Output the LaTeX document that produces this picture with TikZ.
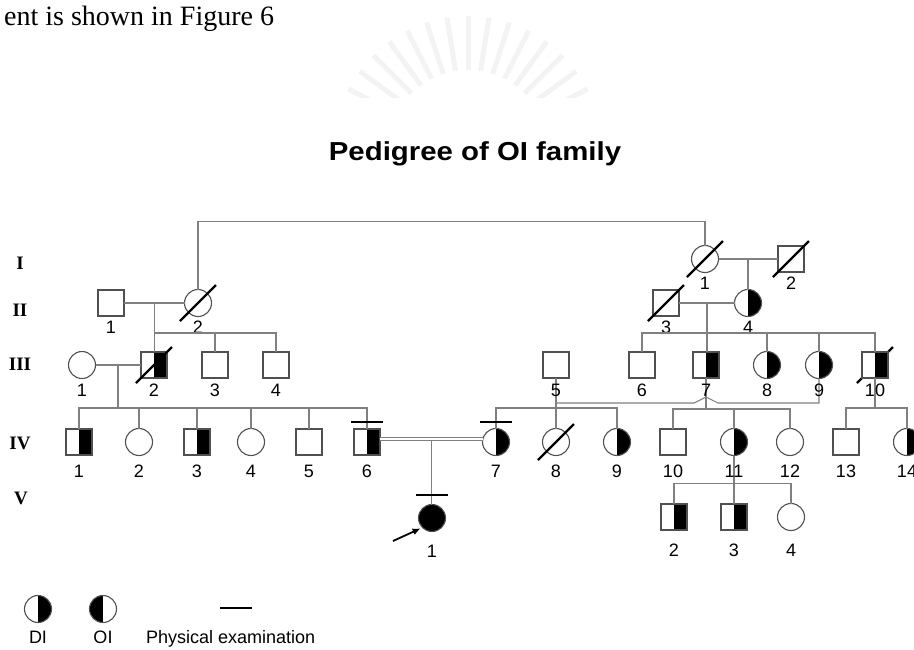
\documentclass[tikz,border=0pt]{standalone}
\usepackage{fontspec}
\setmainfont{Liberation Serif}
\newfontfamily\pedsans{Liberation Sans}
\usepackage{tikz}
\usetikzlibrary{arrows.meta,calc,positioning}
\definecolor{PedLine}{HTML}{808080}
\definecolor{PedEdge}{HTML}{505050}
\definecolor{PedMark}{HTML}{F3F3F3}
\tikzset{
  person/.style={draw=PedEdge,fill=white,line width=1.1pt,inner sep=0pt,outer sep=0pt},
  male/.style={person,rectangle,minimum size=26pt},
  female/.style={person,circle,minimum size=27pt},
  halfR/.style={path picture={\fill[black] (path picture bounding box.south) rectangle (path picture bounding box.north east);}},
  halfL/.style={path picture={\fill[black] (path picture bounding box.south west) rectangle (path picture bounding box.north);}},
  kin/.style={PedLine,line width=1.1pt},
  strikeline/.style={black,line width=2.4pt},
  exambar/.style={black,line width=2.6pt},
  numlbl/.style={font=\pedsans\fontsize{18}{18}\selectfont,inner sep=0pt,text height=12.9pt,text depth=0pt},
  genlbl/.style={font=\bfseries\fontsize{19}{19}\selectfont,inner sep=0pt}
}
\newcommand{\Deceased}[1]{\draw[strikeline] ($(#1)+(-18,18)$) -- ($(#1)+(18,-18)$);}
\newcommand{\ExamBar}[2]{\draw[exambar] ($(#1)+(-16,#2)$) -- ($(#1)+(16,#2)$);}
\begin{document}
\begin{tikzpicture}[x=1pt,y=-1pt]
  \useasboundingbox (0,0) rectangle (914,649);
  \clip (0,0) rectangle (914,649);

  % faint seal behind the title
  \begin{scope}
    \clip (330,0) rectangle (610,97);
    \coordinate (seal) at (468,150);
    \foreach \a in {-27,-36,...,-153}
      \draw[PedMark,line width=5pt] ($(seal)+(\a:80)$) -- ($(seal)+(\a:134)$);
  \end{scope}

  \node[anchor=base west,inner sep=0pt,font=\fontsize{28}{28}\selectfont] (runin) at (4,25) {ent is shown in Figure 6};
  \node[anchor=base,inner sep=0pt,xscale=1.13,font=\pedsans\bfseries\fontsize{26}{26}\selectfont] (title) at (475,160) {Pedigree of OI family};

  % generations
  \node[genlbl] (genI) at (20,263) {I};
  \node[genlbl] (genII) at (20,310) {II};
  \node[genlbl] (genIII) at (20,364) {III};
  \node[genlbl] (genIV) at (20,443) {IV};
  \node[genlbl] (genV) at (21,498) {V};

  % I and II
  \node[female] (i1) at (705,259) {};
  \node[male] (i2) at (791,259) {};
  \node[male] (ii1) at (111,303) {};
  \node[female] (ii2) at (198,303) {};
  \node[male] (ii3) at (666,303) {};
  \node[female,halfR] (ii4) at (748,303) {};
  \foreach \k/\t in {i1/1,i2/2,ii1/1,ii2/2,ii3/3,ii4/4}
    \node[numlbl] (\k-n) at ($(\k)+(0,24)$) {\t};
  \Deceased{i1}
  \Deceased{i2}
  \Deceased{ii2}
  \Deceased{ii3}

  % III
  \coordinate (c3x10) at (875,365);
  \Deceased{c3x10}
  \node[female] (iii1) at (82,365) {};
  \node[male,halfR] (iii2) at (154,365) {};
  \node[male] (iii3) at (215,365) {};
  \node[male] (iii4) at (276,365) {};
  \node[male] (iii5) at (556,365) {};
  \node[male] (iii6) at (642,365) {};
  \node[male,halfR] (iii7) at (706,365) {};
  \node[female,halfR] (iii8) at (767,365) {};
  \node[female,halfR] (iii9) at (819,365) {};
  \node[male,halfR] (iii10) at (c3x10) {};
  \Deceased{iii2}

  % IV
  \node[male,halfR] (iv1) at (79,442) {};
  \node[female] (iv2) at (139,442) {};
  \node[male,halfR] (iv3) at (197,442) {};
  \node[female] (iv4) at (251,442) {};
  \node[male] (iv5) at (309,442) {};
  \node[male,halfR] (iv6) at (367,442) {};
  \node[female,halfR] (iv7) at (496,442) {};
  \node[female] (iv8) at (556,442) {};
  \node[female,halfR] (iv9) at (617,442) {};
  \node[male] (iv10) at (673,442) {};
  \node[female,halfR] (iv11) at (734,442) {};
  \node[female] (iv12) at (790,442) {};
  \node[male] (iv13) at (846,442) {};
  \node[female,halfR] (iv14) at (907,442) {};
  \Deceased{iv8}

  % V
  \node[female,fill=black] (v1) at (432,518) {};
  \node[male,halfR] (v2) at (674,517) {};
  \node[male,halfR] (v3) at (734,517) {};
  \node[female] (v4) at (791,517) {};

  % lines of descent
  \draw[kin] (ii2.north) -- ++(0,-68) -| (i1.north);
  \draw[kin] (i1) -- (i2);
  \coordinate (m1) at ($(i1)!0.5!(i2)$);
  \draw[kin] (m1) -- (m1 |- ii4.north);

  \draw[kin] (ii1) -- (ii2);
  \coordinate (m2a) at ($(ii1)!0.5!(ii2)$);
  \coordinate (s3a) at ($(m2a)+(0,30)$);
  \draw[kin] (m2a) -- (m2a |- iii2.north);
  \draw[kin] (s3a) -| (iii4.north);
  \draw[kin] (iii3.north) -- (iii3.north |- s3a);

  \draw[kin] (ii3) -- (ii4);
  \coordinate (m2b) at ($(ii3)!0.5!(ii4)$);
  \coordinate (s3b) at ($(m2b)+(0,30)$);
  \draw[kin] (m2b) -- (m2b |- iii7.north);
  \draw[kin] (iii6.north) |- (s3b -| iii10) -- (iii10.north);
  \foreach \k in {iii8,iii9}
    \draw[kin] (\k.north) -- (\k.north |- s3b);

  \draw[kin] (iii1) -- (iii2);
  \coordinate (m3a) at ($(iii1)!0.5!(iii2)$);
  \coordinate (s4a) at ($(m3a)+(0,43)$);
  \draw[kin] (m3a) -- (s4a);
  \draw[kin] (iv1.north) |- (s4a -| iv6) -- (iv6.north);
  \foreach \k in {iv2,iv3,iv4,iv5}
    \draw[kin] (\k.north) -- (\k.north |- s4a);

  % III-5 x III-9, hopping over the line of III-7
  \coordinate (m3b) at ($(iii5.south)+(0,25)$);
  \coordinate (hop) at (m3b -| iii7);
  \draw[kin] (iii5.south) -- (iv8.north);
  \draw[kin] (m3b) -- ($(hop)+(-12,0)$) -- ($(hop)+(0,-6)$) -- ($(hop)+(12,0)$) -| (iii9.south);
  \coordinate (s4b) at ($(m3b)+(0,5)$);
  \draw[kin] (iv7.north) |- (s4b -| iv9) -- (iv9.north);

  \coordinate (s4c) at ($(m3b)+(0,6)$);
  \draw[kin] (iii7.south) -- (iii7.south |- s4c);
  \draw[kin] (iv10.north) |- (s4c -| iv12) -- (iv12.north);
  \draw[kin] (iv11.north) -- (iv11.north |- s4c);

  \coordinate (s4d) at ($(iii10.south)+(0,30)$);
  \draw[kin] (iii10.south) -- (s4d);
  \draw[kin] (iv13.north) |- (s4d -| iv14) -- (iv14.north);

  % consanguineous mating
  \draw[kin,double=white,double distance=2.6pt,line width=1pt] ($(iv6.east)+(0,-3)$) -- ($(iv7.west)+(0,-3)$);
  \coordinate (m4a) at ($(iv6.east)!0.5!(iv7.west)+(0,-1)$);
  \draw[kin] (m4a) -- (m4a |- v1.north);

  \coordinate (s5a) at ($(iv11.south)+(0,28)$);
  \draw[kin] (iv11.south) -- (s5a);
  \draw[kin] (v2.north) |- (s5a -| v4) -- (v4.north);
  \draw[kin] (v3.north) -- (v3.north |- s5a);

  % numbers (drawn over the lines, as in the source)
  \foreach \k/\t in {iii1/1,iii2/2,iii3/3,iii4/4,iii5/5,iii6/6,iii7/7,iii8/8,iii9/9,iii10/10}
    \node[numlbl] (\k-n) at ($(\k)+(0,25)$) {\t};
  \foreach \k/\t in {iv1/1,iv2/2,iv3/3,iv4/4,iv5/5,iv6/6,iv7/7,iv8/8,iv9/9,iv10/10,iv11/11,iv12/12,iv13/13,iv14/14}
    \node[numlbl] (\k-n) at ($(\k)+(0,29)$) {\t};
  \foreach \k/\t in {v1/1,v2/2,v3/3,v4/4}
    \node[numlbl] (\k-n) at ($(\k)+(0,33)$) {\t};

  % examined
  \ExamBar{iv6}{-20}
  \ExamBar{iv7}{-20}
  \ExamBar{v1}{-23}

  % proband
  \coordinate (probtail) at ($(v1)+(-39,23)$);
  \draw[-{Latex[length=8pt,width=7pt]},line width=1.8pt,shorten >=2pt] (probtail) -- (v1.south west);

  % key
  \node[female,halfR] (keyDI) at (38,609) {};
  \node[female,halfL] (keyOI) at (103,609) {};
  \node[numlbl] (keyDI-n) at ($(keyDI)+(0,28)$) {DI};
  \node[numlbl] (keyOI-n) at ($(keyOI)+(0,28)$) {OI};
  \coordinate (keybar) at (236,608);
  \draw[exambar] ($(keybar)+(-16,0)$) -- ($(keybar)+(16,0)$);
  \node[numlbl,anchor=west] (keytext) at (146,637) {Physical examination};
\end{tikzpicture}
\end{document}
